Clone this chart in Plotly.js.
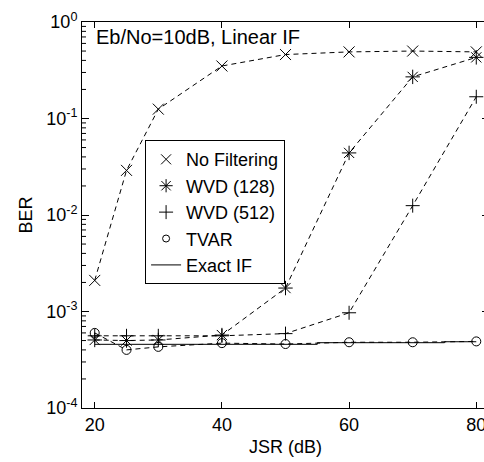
<!DOCTYPE html>
<html>
<head>
<meta charset="utf-8">
<script src="https://cdn.plot.ly/plotly-3.0.1.min.js"></script>
<style>
  html, body { margin: 0; padding: 0; overflow: hidden; background: #fff; }
  #chart { width: 492px; height: 462px; }
</style>
</head>
<body>
<div id="chart"></div>
<script>
// ---- data ----
var jsr = [20, 25, 30, 40, 50, 60, 70, 80];
var noFiltering = [2.1e-3, 2.9e-2, 0.125, 0.35, 0.46, 0.49, 0.50, 0.49];
var wvd128 = [5.07e-4, 5.0e-4, 5.07e-4, 5.7e-4, 1.75e-3, 4.4e-2, 0.27, 0.43];
var wvd512 = [5.6e-4, 5.6e-4, 5.6e-4, 5.6e-4, 5.9e-4, 9.7e-4, 1.25e-2, 0.168];
var tvar = [6.0e-4, 4.0e-4, 4.3e-4, 4.7e-4, 4.6e-4, 4.8e-4, 4.8e-4, 4.9e-4];
var exactJsr = [20, 55, 75, 80];
var exactIF = [4.57e-4, 4.75e-4, 4.86e-4, 4.86e-4];
var seriesNames = ["No Filtering", "WVD (128)", "WVD (512)", "TVAR", "Exact IF"];
var xTicks = [20, 40, 60, 80];
var yTickVals = [1e-4, 1e-3, 1e-2, 1e-1, 1];
var yTickText = ["10<sup>-4</sup>", "10<sup>-3</sup>", "10<sup>-2</sup>", "10<sup>-1</sup>", "10<sup>0</sup>"];
var minorDigits = [2, 3, 4, 5, 6, 7, 8, 9];
var annotationText = "Eb/No=10dB, Linear IF";

var yLogRange = [-4, 0];
var plotWidthPx = 407;
var minorLenPx = 4;

// minor tick marks of the log axis, placed through the axis range
var minorShapes = [];
yTickVals.slice(0, -1).forEach(function (d) {
  minorDigits.forEach(function (m) {
    var p = (Math.log10(d * m) - yLogRange[0]) / (yLogRange[1] - yLogRange[0]);
    minorShapes.push({
      type: "line", xref: "paper", yref: "paper",
      x0: 0, x1: minorLenPx / plotWidthPx, y0: p, y1: p,
      line: { color: "black", width: 1 }
    });
  });
});

var dashStyle = "5px,4px";
var lineW = 1;

function dataTrace(x, y, symbol, size, dash, shape) {
  var t = {
    x: x, y: y, type: "scatter", mode: symbol ? "lines+markers" : "lines",
    showlegend: false, hoverinfo: "skip",
    line: { color: "black", width: lineW, dash: dash, shape: shape || "linear" }
  };
  if (symbol) {
    t.marker = { symbol: symbol, size: size, color: "black", line: { color: "black", width: 1 } };
  }
  return t;
}
function legendTrace(name, symbol, size) {
  if (symbol) {
    return { x: [null], y: [null], type: "scatter", mode: "markers", name: name,
      marker: { symbol: symbol, size: size, color: "black", line: { color: "black", width: 1 } } };
  }
  return { x: [null], y: [null], type: "scatter", mode: "lines", name: name,
    line: { color: "black", width: 1 } };
}

var traces = [
  dataTrace(exactJsr, exactIF, null, 0, "solid", "hv"),
  dataTrace(jsr, tvar, "circle-open", 9, dashStyle),
  dataTrace(jsr, wvd512, "cross-thin-open", 10, dashStyle),
  dataTrace(jsr, wvd128, "asterisk-open", 12, dashStyle),
  dataTrace(jsr, noFiltering, "x-thin-open", 11, dashStyle),
  legendTrace(seriesNames[0], "x-thin-open", 10),
  legendTrace(seriesNames[1], "asterisk-open", 11),
  legendTrace(seriesNames[2], "cross-thin-open", 10),
  legendTrace(seriesNames[3], "circle-open", 7),
  legendTrace(seriesNames[4], null, 0)
];

var font = { family: "Liberation Sans, Arial, sans-serif", color: "black", size: 18 };

var layout = {
  width: 492, height: 462,
  margin: { l: 82, r: 3, t: 22, b: 54 },
  paper_bgcolor: "white", plot_bgcolor: "white",
  font: font,
  showlegend: true,
  legend: {
    x: 0.155, y: 0.694, xanchor: "left", yanchor: "top",
    bgcolor: "white", bordercolor: "black", borderwidth: 1,
    font: { family: font.family, size: 18, color: "black" },
    itemwidth: 30, tracegroupgap: 0
  },
  xaxis: {
    range: [18, 82], tickvals: xTicks, ticktext: xTicks.map(String),
    ticks: "inside", ticklen: 6, tickcolor: "black", tickwidth: 1,
    showline: true, linecolor: "black", linewidth: 1, mirror: "allticks",
    showgrid: false, zeroline: false,
    tickfont: { family: font.family, size: 18, color: "black" },
    title: { text: "JSR (dB)", font: { family: font.family, size: 18, color: "black" }, standoff: 6 }
  },
  yaxis: {
    type: "log", range: yLogRange, tickvals: yTickVals, ticktext: yTickText,
    ticks: "inside", ticklen: 7, tickcolor: "black", tickwidth: 1,
    showline: true, linecolor: "black", linewidth: 1, mirror: "allticks",
    showgrid: false, zeroline: false,
    tickfont: { family: font.family, size: 18, color: "black" },
    title: { text: "BER", font: { family: font.family, size: 18, color: "black" }, standoff: 8 }
  },
  shapes: minorShapes,
  annotations: [{
    text: annotationText, xref: "paper", yref: "paper",
    x: 0.03, y: 0.995, xanchor: "left", yanchor: "top", showarrow: false,
    font: { family: font.family, size: 20, color: "black" }
  }]
};

Plotly.newPlot("chart", traces, layout, { staticPlot: true, displayModeBar: false });
</script>
</body>
</html>
